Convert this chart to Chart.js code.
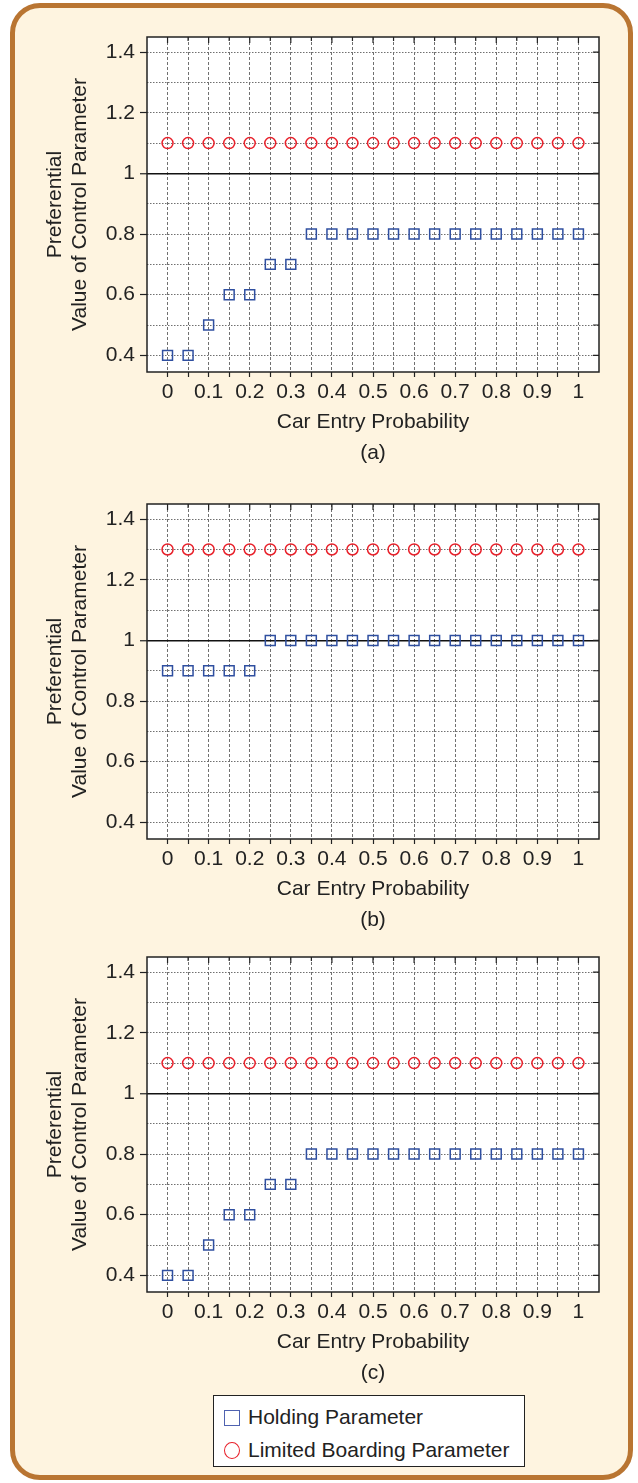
<!DOCTYPE html>
<html>
<head>
<meta charset="utf-8">
<script src="https://cdn.jsdelivr.net/npm/chart.js@4.4.0/dist/chart.umd.min.js"></script>
<style>
    body { margin: 0; width: 638px; height: 1483px; position: relative; background: #fff; font-family: "Liberation Sans", Arial, sans-serif; }
    #frame { position: absolute; left: 10px; top: 3px; width: 613px; height: 1467px; border: 5px solid #b97532; border-radius: 30px; background: #fef4e0; }
    canvas.panel { position: absolute; left: 0; }
    #legend { position: absolute; left: 213px; top: 1395px; width: 312px; height: 72px; box-sizing: border-box; border: 1px solid #222; background: #fff; padding: 4px 0 0 10px; font-size: 21px; color: #222; }
    #legend .item { height: 33px; line-height: 33px; white-space: nowrap; }
    #legend .mark { display: inline-block; width: 16px; height: 16px; box-sizing: border-box; margin-right: 8px; vertical-align: -2px; }
</style>
</head>
<body>
<div id="frame"></div>
<canvas class="panel" id="panelA" width="638" height="470" style="top:0px"></canvas>
<canvas class="panel" id="panelB" width="638" height="470" style="top:467px"></canvas>
<canvas class="panel" id="panelC" width="638" height="470" style="top:920px"></canvas>
<div id="legend"></div>

<script>
// x positions (car entry probability) shared by every panel
const entryProb = [0, 0.05, 0.1, 0.15, 0.2, 0.25, 0.3, 0.35, 0.4, 0.45, 0.5,
                   0.55, 0.6, 0.65, 0.7, 0.75, 0.8, 0.85, 0.9, 0.95, 1];

// panel (a)
const holdingA  = [0.4, 0.4, 0.5, 0.6, 0.6, 0.7, 0.7, 0.8, 0.8, 0.8, 0.8, 0.8, 0.8, 0.8, 0.8, 0.8, 0.8, 0.8, 0.8, 0.8, 0.8];
const boardingA = [1.1, 1.1, 1.1, 1.1, 1.1, 1.1, 1.1, 1.1, 1.1, 1.1, 1.1, 1.1, 1.1, 1.1, 1.1, 1.1, 1.1, 1.1, 1.1, 1.1, 1.1];
// panel (b)
const holdingB  = [0.9, 0.9, 0.9, 0.9, 0.9, 1, 1, 1, 1, 1, 1, 1, 1, 1, 1, 1, 1, 1, 1, 1, 1];
const boardingB = [1.3, 1.3, 1.3, 1.3, 1.3, 1.3, 1.3, 1.3, 1.3, 1.3, 1.3, 1.3, 1.3, 1.3, 1.3, 1.3, 1.3, 1.3, 1.3, 1.3, 1.3];
// panel (c)
const holdingC  = [0.4, 0.4, 0.5, 0.6, 0.6, 0.7, 0.7, 0.8, 0.8, 0.8, 0.8, 0.8, 0.8, 0.8, 0.8, 0.8, 0.8, 0.8, 0.8, 0.8, 0.8];
const boardingC = [1.1, 1.1, 1.1, 1.1, 1.1, 1.1, 1.1, 1.1, 1.1, 1.1, 1.1, 1.1, 1.1, 1.1, 1.1, 1.1, 1.1, 1.1, 1.1, 1.1, 1.1];

const seriesNames = ['Holding Parameter', 'Limited Boarding Parameter'];
const xTickLabels = ['0', '0.1', '0.2', '0.3', '0.4', '0.5', '0.6', '0.7', '0.8', '0.9', '1'];
const yGridValues = [0.4, 0.5, 0.6, 0.7, 0.8, 0.9, 1, 1.1, 1.2, 1.3, 1.4];
const yTickLabels = ['0.4', '0.6', '0.8', '1', '1.2', '1.4'];

const textColor = '#222';
const gridColor = '#707070';
const holdColor = '#2f4fa0';
const boardColor = '#e8202a';

Chart.defaults.font.family = '"Liberation Sans", Arial, sans-serif';
Chart.defaults.font.size = 21;
Chart.defaults.color = textColor;

// white plot area, box round it and the inward ticks on top and right
const panelFrame = {
    id: 'panelFrame',
    beforeDraw(chart) {
        const { ctx, chartArea: a } = chart;
        ctx.save();
        ctx.fillStyle = '#fff';
        ctx.fillRect(a.left, a.top, a.right - a.left, a.bottom - a.top);
        ctx.restore();
    },
    afterDraw(chart) {
        const { ctx, chartArea: a, scales } = chart;
        ctx.save();
        ctx.strokeStyle = textColor;
        ctx.lineWidth = 1.2;
        ctx.beginPath();
        scales.x.ticks.forEach((t, i) => {
            const px = scales.x.getPixelForValue(t.value);
            ctx.moveTo(px, a.top);
            ctx.lineTo(px, a.top + (i % 2 === 0 ? 6 : 4));
        });
        scales.y.ticks.forEach((t) => {
            const py = scales.y.getPixelForValue(t.value);
            ctx.moveTo(a.right, py);
            ctx.lineTo(a.right - 6, py);
        });
        ctx.stroke();
        ctx.lineWidth = 1.5;
        ctx.strokeRect(a.left, a.top, a.right - a.left, a.bottom - a.top);
        ctx.restore();
    }
};

function isOne(v) {
    return Math.abs(v - 1) < 1e-9;
}

function makePanel(canvasId, holding, boarding, caption) {
    const ctx = document.getElementById(canvasId).getContext('2d');
    return new Chart(ctx, {
        type: 'scatter',
        data: {
            datasets: [
                {
                    label: seriesNames[0],
                    data: entryProb.map((x, i) => ({ x: x, y: holding[i] })),
                    pointStyle: 'rect',
                    pointRadius: 7,
                    pointHoverRadius: 7,
                    pointBorderWidth: 1.5,
                    borderColor: holdColor,
                    backgroundColor: 'rgba(0,0,0,0)'
                },
                {
                    label: seriesNames[1],
                    data: entryProb.map((x, i) => ({ x: x, y: boarding[i] })),
                    pointStyle: 'circle',
                    pointRadius: 5.5,
                    pointHoverRadius: 5.5,
                    pointBorderWidth: 1.5,
                    borderColor: boardColor,
                    backgroundColor: 'rgba(0,0,0,0)'
                }
            ]
        },
        options: {
            responsive: false,
            animation: false,
            devicePixelRatio: 1,
            layout: { padding: { left: 0, top: 37, right: 39, bottom: 0 } },
            plugins: {
                legend: { display: false },
                tooltip: { enabled: false }
            },
            scales: {
                x: {
                    type: 'linear',
                    min: -0.05,
                    max: 1.05,
                    afterBuildTicks: (scale) => {
                        scale.ticks = entryProb.map(v => ({ value: v }));
                    },
                    afterFit: (scale) => { scale.height = 98; },
                    ticks: {
                        autoSkip: false,
                        maxRotation: 0,
                        padding: 3,
                        color: textColor,
                        callback: (value, index) => (index % 2 === 0 ? xTickLabels[index / 2] : '')
                    },
                    grid: {
                        color: gridColor,
                        lineWidth: 1,
                        tickLength: 5,
                        tickColor: textColor,
                        tickWidth: 1.2
                    },
                    border: { display: false, dash: [3, 2] },
                    title: {
                        display: true,
                        text: ['Car Entry Probability', caption],
                        color: textColor,
                        font: { size: 21, lineHeight: 31 / 21 },
                        padding: { top: 0, bottom: 1.5 }
                    }
                },
                y: {
                    type: 'linear',
                    min: 0.345,
                    max: 1.45,
                    afterBuildTicks: (scale) => {
                        scale.ticks = yGridValues.map(v => ({ value: v }));
                    },
                    afterFit: (scale) => { scale.width = 147; },
                    ticks: {
                        autoSkip: false,
                        padding: 5,
                        color: textColor,
                        callback: (value, index) => (index % 2 === 0 ? yTickLabels[index / 2] : '')
                    },
                    grid: {
                        color: (c) => (c.tick && isOne(c.tick.value) ? '#111' : gridColor),
                        lineWidth: (c) => (c.tick && isOne(c.tick.value) ? 1.5 : 1),
                        tickLength: 7,
                        tickWidth: 1.2,
                        tickColor: (c) => (c.index % 2 === 0 ? textColor : 'rgba(0,0,0,0)')
                    },
                    border: {
                        display: false,
                        dash: (c) => (c.tick && isOne(c.tick.value) ? [] : [1.5, 1.5])
                    },
                    title: {
                        display: true,
                        text: ['Preferential', 'Value of Control Parameter'],
                        color: textColor,
                        font: { size: 21, lineHeight: 25 / 21 },
                        padding: { top: 42.5, bottom: 0 }
                    }
                }
            }
        },
        plugins: [panelFrame]
    });
}

makePanel('panelA', holdingA, boardingA, '(a)');
makePanel('panelB', holdingB, boardingB, '(b)');
makePanel('panelC', holdingC, boardingC, '(c)');

// legend box under the last panel
const legend = document.getElementById('legend');
let html = '';
html += `<div class="item"><span class="mark" style="border:1.5px solid #4f62b0"></span>${seriesNames[0]}</div>`;
html += `<div class="item"><span class="mark" style="border:1.5px solid ${boardColor};border-radius:50%;height:17px"></span>${seriesNames[1]}</div>`;
legend.innerHTML = html;
</script>
</body>
</html>
